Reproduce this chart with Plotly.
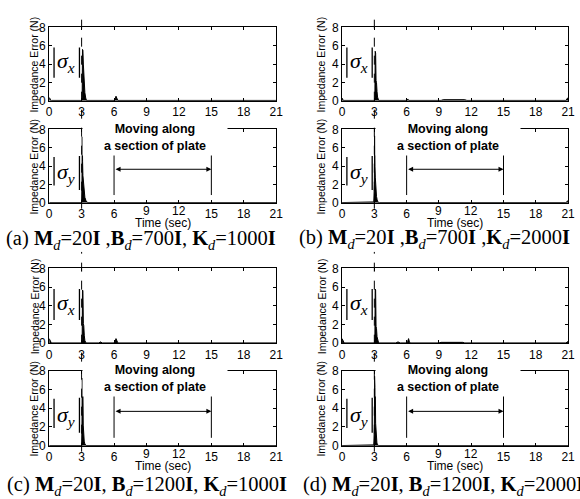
import plotly.graph_objects as go

# ---------------- data ----------------
x_ticks = [0, 3, 6, 9, 12, 15, 18, 21]
x_labels_top = ["0", "3", "6", "9", "12", "15", "18", "21"]
x_labels_bottom = ["0", "3", "6", "", "", "15", "18", "21"]
raised_ticks = [9, 12]
y_ticks = [0, 2, 4, 6, 8]

# (a) Md=20I, Bd=700I, Kd=1000I
t_a_x = [0, 0.05, 0.12, 0.2, 3.0, 3.05, 3.08, 3.12, 3.16, 3.2, 3.25, 3.3, 3.38, 3.45, 6.0, 6.1, 6.18, 6.25, 6.35, 21]
s_a_x = [0.35, 0.3, 0.1, 0.04, 0.04, 0.3, 5.6, 5.5, 4.0, 2.6, 1.6, 0.9, 0.3, 0.04, 0.04, 0.2, 0.5, 0.2, 0.04, 0.04]
t_a_y = [0, 3.0, 3.03, 3.06, 3.09, 3.12, 3.15, 3.2, 3.25, 3.3, 3.4, 3.55, 21]
s_a_y = [0.03, 0.03, 2.0, 7.2, 4.5, 3.0, 2.6, 1.6, 1.0, 0.6, 0.25, 0.03, 0.03]

# (b) Md=20I, Bd=700I, Kd=2000I
t_b_x = [0, 0.05, 0.12, 3.0, 3.05, 3.08, 3.12, 3.16, 3.2, 3.25, 3.3, 3.4, 6.0, 6.1, 6.2, 9.2, 9.4, 11.4, 11.6, 20.8, 20.95, 21]
s_b_x = [0.3, 0.2, 0.04, 0.04, 0.3, 5.4, 5.2, 2.2, 2.0, 1.0, 0.4, 0.04, 0.04, 0.2, 0.04, 0.04, 0.12, 0.12, 0.04, 0.04, 0.3, 0.25]
t_b_y = [0, 2.3, 2.4, 2.95, 3.0, 3.03, 3.06, 3.09, 3.12, 3.16, 3.2, 3.26, 3.32, 3.45, 20.8, 20.95, 21]
s_b_y = [0.03, 0.03, 0.1, 0.1, 2.0, 7.3, 4.0, 2.8, 2.0, 1.2, 0.7, 0.35, 0.1, 0.03, 0.03, 0.2, 0.2]

# (c) Md=20I, Bd=1200I, Kd=1000I
t_c_x = [0, 0.05, 0.12, 0.2, 3.0, 3.05, 3.08, 3.12, 3.16, 3.2, 3.25, 3.3, 3.4, 4.6, 4.75, 4.9, 6.0, 6.1, 6.18, 6.26, 6.35, 21]
s_c_x = [0.5, 0.4, 0.1, 0.04, 0.04, 0.3, 5.7, 5.6, 2.1, 1.9, 0.8, 0.3, 0.04, 0.04, 0.15, 0.04, 0.04, 0.2, 0.5, 0.15, 0.04, 0.04]
t_c_y = [0, 3.0, 3.03, 3.06, 3.09, 3.12, 3.15, 3.19, 3.24, 3.3, 3.42, 21]
s_c_y = [0.03, 0.03, 2.0, 7.2, 3.5, 5.9, 2.2, 1.0, 0.5, 0.2, 0.03, 0.03]

# (d) Md=20I, Bd=1200I, Kd=2000I
t_d_x = [0, 0.05, 0.12, 0.2, 3.0, 3.05, 3.08, 3.12, 3.16, 3.2, 3.25, 3.3, 3.4, 5.0, 5.2, 5.4, 6.0, 6.1, 6.18, 6.26, 6.35, 9.0, 9.2, 11.2, 11.4, 20.8, 20.95, 21]
s_d_x = [0.5, 0.4, 0.1, 0.04, 0.04, 0.3, 5.8, 5.7, 1.8, 1.6, 0.7, 0.3, 0.04, 0.04, 0.15, 0.04, 0.04, 0.2, 0.5, 0.15, 0.04, 0.04, 0.1, 0.1, 0.04, 0.04, 0.2, 0.2]
t_d_y = [0, 2.3, 2.4, 2.95, 3.0, 3.03, 3.06, 3.09, 3.12, 3.15, 3.19, 3.24, 3.3, 3.42, 21]
s_d_y = [0.03, 0.03, 0.1, 0.1, 2.0, 7.4, 3.5, 6.2, 2.4, 1.2, 0.6, 0.3, 0.1, 0.03, 0.03]

captions = [
    "(a) <b>M</b><sub><i>d</i></sub>=20<b>I</b> ,<b>B</b><sub><i>d</i></sub>=700<b>I</b>, <b>K</b><sub><i>d</i></sub>=1000<b>I</b>",
    "(b) <b>M</b><sub><i>d</i></sub>=20<b>I</b> ,<b>B</b><sub><i>d</i></sub>=700<b>I</b> ,<b>K</b><sub><i>d</i></sub>=2000<b>I</b>",
    "(c) <b>M</b><sub><i>d</i></sub>=20<b>I</b>, <b>B</b><sub><i>d</i></sub>=1200<b>I</b>, <b>K</b><sub><i>d</i></sub>=1000<b>I</b>",
    "(d) <b>M</b><sub><i>d</i></sub>=20<b>I</b>, <b>B</b><sub><i>d</i></sub>=1200<b>I</b>, <b>K</b><sub><i>d</i></sub>=2000<b>I</b>",
]
y_title = "Impedance Error (N)"
x_title = "Time (sec)"
note_text = "<b>Moving along<br>a section of plate</b>"
move_start, move_end = 6, 15

series = [
    (t_a_x, s_a_x, t_a_y, s_a_y),
    (t_b_x, s_b_x, t_b_y, s_b_y),
    (t_c_x, s_c_x, t_c_y, s_c_y),
    (t_d_x, s_d_x, t_d_y, s_d_y),
]

# ---------------- layout geometry (pixels) ----------------
W, H = 580, 499
col_x = [(47, 278), (345, 575)]
title_off = [15, 21]
row_y = [((21, 96.5), (126, 201.5)), ((269, 346), (374, 451.5))]
# caption: left edge x, vertical centre y (pixels)
caption_pos = [(2, 240), (300, 239), (3, 493), (304, 493)]

def px(x):
    return x / W

def py(y):
    return 1 - y / H

fig = go.Figure()
SANS = "Liberation Sans, Arial, sans-serif"
SERIF = "Liberation Serif, Times New Roman, serif"

annotations = []
shapes = []
layout = {}

ax_i = 0
for p in range(4):
    r, c = divmod(p, 2)
    x0p, x1p = col_x[c]
    tx, sx, ty, sy = series[p]
    for k in range(2):
        ax_i += 1
        xa = "x" if ax_i == 1 else f"x{ax_i}"
        ya = "y" if ax_i == 1 else f"y{ax_i}"
        xname = "xaxis" if ax_i == 1 else f"xaxis{ax_i}"
        yname = "yaxis" if ax_i == 1 else f"yaxis{ax_i}"
        top, bot = row_y[r][k]
        t = tx if k == 0 else ty
        s = sx if k == 0 else sy
        fig.add_trace(go.Scatter(x=t, y=s, mode="lines", xaxis=xa, yaxis=ya,
                                 line=dict(color="black", width=1),
                                 fill="tozeroy", fillcolor="black",
                                 showlegend=False, hoverinfo="skip"))
        common = dict(showline=True, mirror="allticks", linecolor="black", linewidth=1,
                      ticks="inside", ticklen=3, tickcolor="black", tickwidth=1,
                      showgrid=False, zeroline=False,
                      tickfont=dict(family=SANS, size=12, color="black"))
        layout[xname] = dict(domain=[px(x0p), px(x1p)], range=[0, 21], tickvals=x_ticks,
                             ticktext=x_labels_top if k == 0 else x_labels_bottom,
                             anchor=ya, fixedrange=True, **common)
        layout[yname] = dict(domain=[py(bot), py(top)], range=[0, 8], tickvals=y_ticks,
                             anchor=xa, fixedrange=True, **common)
        # y axis title
        annotations.append(dict(text=y_title, xref="paper", yref="paper",
                                x=px(x0p - title_off[c]), y=py((top + bot) / 2), textangle=-90,
                                showarrow=False, xanchor="center", yanchor="middle",
                                font=dict(family=SANS, size=10.5, color="black")))
        # |sigma| label
        sub = "x" if k == 0 else "y"
        bars = ((2.5, 5.8), (2.5, 5.8)) if k == 0 else ((1.9, 5.0), (1.4, 5.1))
        shapes.append(dict(type="line", xref=xa, yref=ya, x0=0.45, x1=0.45,
                           y0=bars[0][0], y1=bars[0][1], line=dict(color="black", width=1.3)))
        shapes.append(dict(type="line", xref=xa, yref=ya, x0=2.8, x1=2.8,
                           y0=bars[1][0], y1=bars[1][1], line=dict(color="black", width=1.3)))
        annotations.append(dict(text=f"<i>σ</i><sub><i>{sub}</i></sub>", xref=xa, yref=ya,
                                x=1.6, y=4.2 if k == 0 else 3.2, showarrow=False,
                                xanchor="center", yanchor="middle",
                                font=dict(family=SERIF, size=22, color="black")))
        if k == 1:
            # tick labels 9 and 12 sit slightly higher in the reference
            for tv in raised_ticks:
                annotations.append(dict(text=str(tv), xref=xa, yref="paper", x=tv,
                                        y=py(bot + 8.5), showarrow=False,
                                        xanchor="center", yanchor="middle",
                                        font=dict(family=SANS, size=12, color="black")))
            annotations.append(dict(text=x_title, xref=xa, yref="paper", x=10.5,
                                    y=py(bot + 20.5), showarrow=False,
                                    xanchor="center", yanchor="middle",
                                    font=dict(family=SANS, size=12, color="black")))
            annotations.append(dict(text=note_text, xref=xa, yref=ya, x=9.8, y=7.15,
                                    showarrow=False, xanchor="center", yanchor="middle",
                                    width=142, height=33, bgcolor="white",
                                    font=dict(family=SANS, size=12.5, color="black")))
            for xm in (move_start, move_end):
                shapes.append(dict(type="line", xref=xa, yref=ya, x0=xm, x1=xm,
                                   y0=0.85, y1=5.3, line=dict(color="black", width=1)))
            annotations.append(dict(text="", xref=xa, yref=ya, x=move_end, y=3.66,
                                    axref=xa, ayref=ya, ax=move_start, ay=3.66,
                                    showarrow=True, arrowhead=2, arrowside="end+start",
                                    arrowsize=1, arrowwidth=1, arrowcolor="black"))
            # dashed line at t = 3 crossing both axes of the panel
            topp = row_y[r][0][0] - 17
            botp = bot + 6
            shapes.append(dict(type="line", xref=xa, yref="paper", x0=3, x1=3,
                               y0=py(botp), y1=py(topp),
                               line=dict(color="black", width=1, dash="dash")))
    cx, cy = caption_pos[p]
    annotations.append(dict(text=captions[p], xref="paper", yref="paper", x=px(cx), y=py(cy),
                            showarrow=False, xanchor="left", yanchor="middle",
                            height=22, valign="middle", borderpad=0,
                            font=dict(family=SERIF, size=20.5, color="black")))

fig.update_layout(width=W, height=H, margin=dict(l=0, r=0, t=0, b=0),
                  paper_bgcolor="white", plot_bgcolor="white",
                  annotations=annotations, shapes=shapes, showlegend=False, **layout)

fig.write_html("out.html")
